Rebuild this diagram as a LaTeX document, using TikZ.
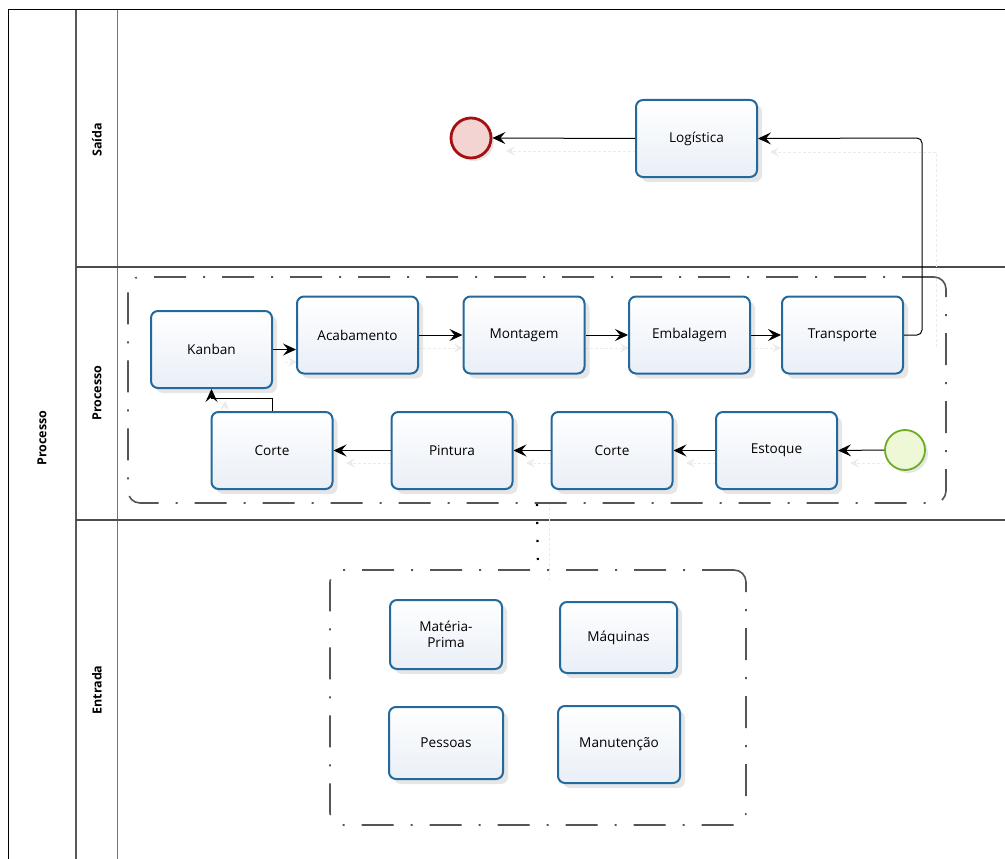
\documentclass[tikz,border=0pt]{standalone}
\usepackage{fontspec}
\setmainfont{Open Sans}
\usetikzlibrary{arrows.meta,shadows}
\definecolor{taskblue}{HTML}{24699C}
\definecolor{taskfill}{HTML}{E9EFF7}
\definecolor{endred}{HTML}{A50F0F}
\definecolor{endfill}{HTML}{F4D3D3}
\definecolor{startgreen}{HTML}{6BAE24}
\definecolor{startfill}{HTML}{EEF7D6}
\definecolor{grpgray}{HTML}{555555}
\begin{document}
\begin{tikzpicture}[x=1pt,y=-1pt,
  task/.style={draw=taskblue, line width=2pt, rounded corners=7pt,
    top color=white, bottom color=taskfill,
    minimum width=121pt, minimum height=77pt, inner sep=2pt,
    font=\fontsize{13.6}{16}\selectfont, align=center,
    drop shadow={opacity=0.2, shadow xshift=5pt, shadow yshift=-5pt}},
  flow/.style={-{Stealth[length=13pt,width=12pt,inset=5pt]}, line width=1pt},
  ghost/.style={draw=black!8, line width=1pt, dash pattern=on 3pt off 2pt,
    -{Stealth[length=9pt,width=9pt,inset=3.5pt,fill=black!8]}},
  grp/.style={draw=grpgray, line width=1.6pt, rounded corners=12pt,
    dash pattern=on 32pt off 17pt on 2pt off 17pt},
  assoc/.style={line width=2.2pt, dash pattern=on 2.2pt off 15.8pt},
  lanelabel/.style={rotate=90, font=\bfseries\fontsize{12.5}{14}\selectfont}
]
\useasboundingbox (0,0) rectangle (1005,859);

% pool and lane frame
\draw[black, line width=1pt] (1005,10) -- (8,10) -- (8,859);
\draw[black!65, line width=2pt] (76,10) -- (76,859);
\draw[black!55, line width=0.8pt] (117,10) -- (117,859);
\draw[black!70, line width=1.4pt] (76,267) -- (1005,267);
\draw[black!70, line width=1.4pt] (76,520) -- (1005,520);

\node[lanelabel] (pool) at (42,438) {Processo};
\node[lanelabel] (lsaida) at (97,140) {Saída};
\node[lanelabel] (lproc) at (97,393) {Processo};
\node[lanelabel] (lentr) at (97,690) {Entrada};

% faint shadow copies of the flows, drawn first so the tasks cover them
\draw[ghost] (936,347) -- (936,152) -- (770,152);
\draw[ghost] (636,151) -- (506,151);
\draw[ghost] (285,362) -- (297,362);
\draw[ghost] (418,348) -- (463,348);
\draw[ghost] (585,348) -- (629,348);
\draw[ghost] (750,348) -- (781,348);
\draw[ghost] (885,463) -- (850,463);
\draw[ghost] (716,463) -- (686,463);
\draw[ghost] (551,463) -- (526,463);
\draw[ghost] (391,463) -- (346,463);
\draw[ghost] (285,425) -- (285,412) -- (225,412) -- (225,401);
\draw[ghost, -] (549,503) -- (549,580);

% groups
\node[grp, minimum width=818pt, minimum height=226pt] (gproc) at (537,390) {};
\node[grp, minimum width=416pt, minimum height=255pt] (gentr) at (538,697.5) {};

% Saida lane
\node[task] (log) at (696.5,138.5) {Logística};
\node[circle, draw=endred, line width=2.8pt, fill=endfill, minimum size=40pt,
  inner sep=0pt, drop shadow={opacity=0.2, shadow xshift=3pt, shadow yshift=-3pt}] (fim) at (471,138) {};

% Processo lane, top row
\node[task] (kanban) at (211.5,349.5) {Kanban};
\node[task] (acab) at (357.5,335) {Acabamento};
\node[task] (mont) at (524,335) {Montagem};
\node[task] (emb) at (689.5,335) {Embalagem};
\node[task] (transp) at (842.5,335) {Transporte};

% Processo lane, bottom row
\node[task] (corteA) at (272,450.5) {Corte};
\node[task] (pint) at (452,450.5) {Pintura};
\node[task] (corteB) at (612,450.5) {Corte};
\node[task] (est) at (776.5,450.5) {Estoque};
\node[circle, draw=startgreen, line width=1.8pt, fill=startfill, minimum size=40pt,
  inner sep=0pt, drop shadow={opacity=0.2, shadow xshift=3pt, shadow yshift=-3pt}] (ini) at (905,450) {};

% Entrada lane
\node[task, minimum width=112pt, minimum height=69pt] (mp) at (446,634.5) {Matéria-\\Prima};
\node[task, minimum width=117pt, minimum height=71pt] (maq) at (618.5,637.5) {Máquinas};
\node[task, minimum width=114pt, minimum height=72pt] (pess) at (446,743) {Pessoas};
\node[task, minimum width=122pt, minimum height=77pt] (manut) at (619,744.5) {Manutenção};

% sequence flows
\coordinate (bendR) at (922,138);
\draw[flow, rounded corners=5pt] (transp.east) -| (bendR) -- (log.east);
\draw[flow] (log.west) -- (fim.east);
\draw[flow] (kanban.east) -- (kanban.east -| acab.west);
\draw[flow] (acab.east) -- (mont.west);
\draw[flow] (mont.east) -- (emb.west);
\draw[flow] (emb.east) -- (transp.west);
\draw[flow] (ini.west) -- (est.east);
\draw[flow] (est.west) -- (corteB.east);
\draw[flow] (corteB.west) -- (pint.east);
\draw[flow] (pint.west) -- (corteA.east);
\draw[flow] (corteA.north) -- ++(0,-13) -| (kanban.south);

% association between the groups
\draw[assoc] (gproc.south) -- (gentr.north);
\end{tikzpicture}
\end{document}
